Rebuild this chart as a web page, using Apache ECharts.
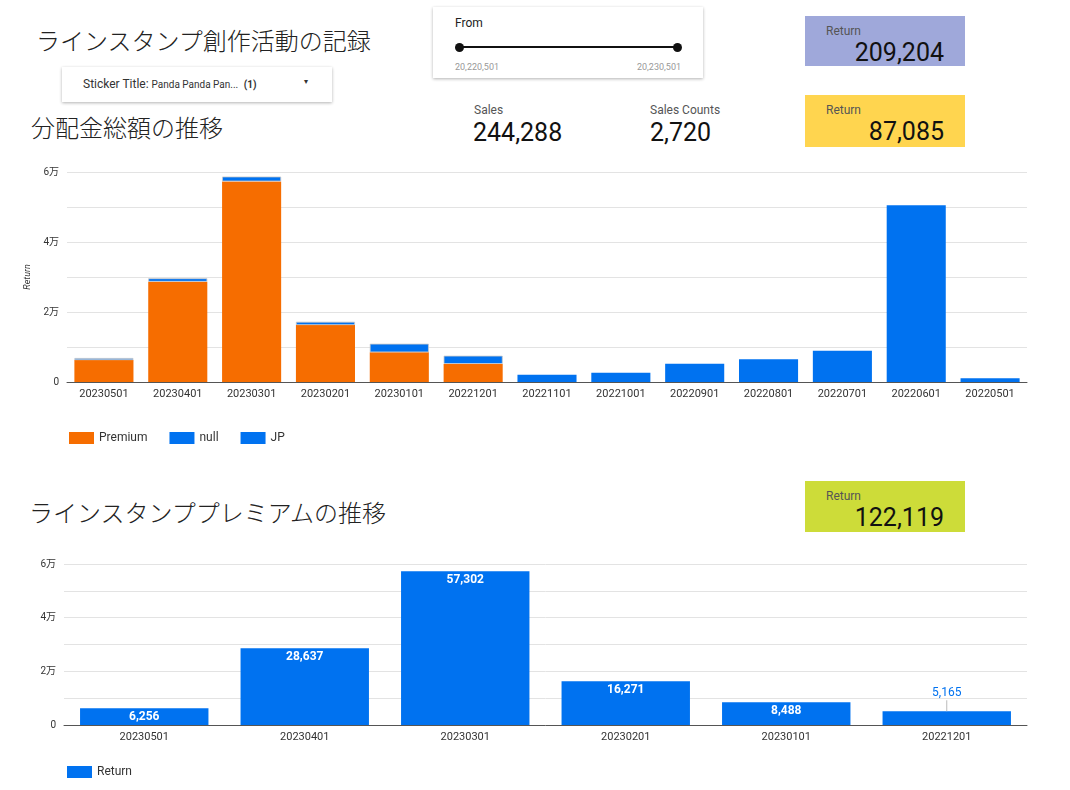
<!DOCTYPE html>
<html>
<head>
<meta charset="utf-8">
<script src="https://cdn.jsdelivr.net/npm/echarts@6/dist/echarts.min.js"></script>
<style>
  body { margin:0; background:#fff; font-family: Roboto, "Noto Sans CJK JP", sans-serif; }
  #page { position:relative; width:1070px; height:790px; overflow:hidden; }
  .abs { position:absolute; }
  .jp { font-family:"Noto Sans CJK JP", sans-serif; font-weight:300; font-size:24px; color:#222; white-space:nowrap; }
  .card { background:#fff; box-shadow:0 1px 3px rgba(0,0,0,0.3); }
  .lbl { font-size:12px; color:#555; }
  .big { font-size:25px; color:#111; }
  .box { width:160px; }
  .box .lbl { position:absolute; left:21px; top:8px; }
  .box .big { position:absolute; right:21px; top:22px; }
  #chart1 { position:absolute; left:0; top:150px; width:1070px; height:310px; }
  #chart2 { position:absolute; left:0; top:540px; width:1070px; height:250px; }
</style>
</head>
<body>
<div id="page">
  <div class="abs jp" style="left:36px;top:22px;">ラインスタンプ創作活動の記録</div>
  <div class="abs card" style="left:62px;top:67px;width:270px;height:35px;">
    <span class="abs" style="left:21px;top:10px;font-size:12px;color:#333;">Sticker Title: <span style="font-size:10px;">Panda Panda Pan...</span> <b style="font-size:10px;">&nbsp;(1)</b></span>
    <span class="abs" style="left:242px;top:10px;font-size:8px;color:#333;">&#9662;</span>
  </div>
  <div class="abs jp" style="left:31px;top:109px;">分配金総額の推移</div>

  <div class="abs card" style="left:433px;top:7px;width:270px;height:71px;">
    <span class="abs" style="left:22px;top:9px;font-size:12px;color:#222;">From</span>
    <div class="abs" style="left:26px;top:39px;width:218px;height:2px;background:#111;"></div>
    <div class="abs" style="left:22px;top:36px;width:9px;height:9px;border-radius:50%;background:#111;"></div>
    <div class="abs" style="left:240px;top:36px;width:9px;height:9px;border-radius:50%;background:#111;"></div>
    <span class="abs" style="left:22px;top:55px;font-size:9px;color:#999;">20,220,501</span>
    <span class="abs" style="right:22px;top:55px;font-size:9px;color:#999;">20,230,501</span>
  </div>

  <div class="abs lbl" style="left:474px;top:103px;">Sales</div>
  <div class="abs big" style="left:473px;top:118px;">244,288</div>
  <div class="abs lbl" style="left:650px;top:103px;">Sales Counts</div>
  <div class="abs big" style="left:650px;top:118px;">2,720</div>

  <div class="abs box" style="left:805px;top:16px;height:50px;background:#9fa8da;"><span class="lbl">Return</span><span class="big">209,204</span></div>
  <div class="abs box" style="left:805px;top:95px;height:52px;background:#ffd54f;"><span class="lbl">Return</span><span class="big">87,085</span></div>

  <div class="abs jp" style="left:29px;top:494px;">ラインスタンププレミアムの推移</div>
  <div class="abs box" style="left:805px;top:481px;height:51px;background:#cddc39;"><span class="lbl">Return</span><span class="big">122,119</span></div>

  <div id="chart1"></div>
  <div id="chart2"></div>
</div>
<script>
var months = ['20230501','20230401','20230301','20230201','20230101','20221201','20221101','20221001','20220901','20220801','20220701','20220601','20220501'];
var premium = [6256, 28637, 57302, 16271, 8488, 5165, null, null, null, null, null, null, null];
var nullType = [600, 1000, 1400, 950, 2450, 2350, null, null, null, null, null, null, null];
var jp = [null, null, null, null, null, null, 2100, 2650, 5250, 6500, 8900, 50500, 1050];

var premiumMonths = ['20230501','20230401','20230301','20230201','20230101','20221201'];
var premiumReturn = [6256, 28637, 57302, 16271, 8488, 5165];

var yTicks = [0, 20000, 40000, 60000];

var blue = '#0072f0';
var orange = '#f66d00';
var font = 'Roboto, "Noto Sans CJK JP", sans-serif';

function yLabel(v){
  if (yTicks.indexOf(v) < 0) return '';
  return v === 0 ? '0' : (v / 10000) + '万';
}

function valueAxis(name){
  return {
    type: 'value', min: 0, max: 60000, interval: 10000,
    name: name, nameLocation: 'middle', nameGap: 31, nameRotate: 90,
    nameTextStyle: { fontSize: 9, fontStyle: 'italic', color: '#333', fontFamily: font },
    axisLabel: { formatter: yLabel, fontSize: 10, color: '#333', fontFamily: font, margin: 8 },
    splitLine: { lineStyle: { color: '#e3e3e3', width: 1 } },
    axisLine: { show: false }, axisTick: { show: false }
  };
}

function catAxis(data){
  return {
    type: 'category', data: data,
    axisLabel: { fontSize: 11, color: '#333', fontFamily: font, margin: 7 },
    axisLine: { lineStyle: { color: '#555', width: 1 } },
    axisTick: { show: false }
  };
}

/* 分配金総額の推移 */
var chart1 = echarts.init(document.getElementById('chart1'));
chart1.setOption({
  animation: false,
  textStyle: { fontFamily: font },
  grid: { left: 67, right: 43, top: 22, bottom: 78 },
  legend: {
    left: 64, top: 277, itemWidth: 25, itemHeight: 12, itemGap: 22, icon: 'rect',
    itemStyle: { borderWidth: 0 },
    textStyle: { fontSize: 12, color: '#333', fontFamily: font },
    data: ['Premium', 'null', 'JP']
  },
  xAxis: catAxis(months),
  yAxis: valueAxis('Return'),
  series: [
    { name: 'Premium', type: 'bar', stack: 'ret', data: premium, barCategoryGap: '20%',
      itemStyle: { color: orange } },
    { name: 'null', type: 'bar', stack: 'ret', data: nullType,
      itemStyle: { color: blue, borderColor: '#c9c9c9', borderWidth: 0.8 } },
    { name: 'JP', type: 'bar', stack: 'ret', data: jp,
      itemStyle: { color: blue } }
  ]
});

/* ラインスタンププレミアムの推移 */
var chart2 = echarts.init(document.getElementById('chart2'));
var lastIdx = premiumReturn.length - 1;
function fmt(v){ return v.toLocaleString('en-US'); }
chart2.setOption({
  animation: false,
  textStyle: { fontFamily: font },
  grid: { left: 64, right: 43, top: 24, bottom: 65 },
  legend: {
    left: 62, top: 221, itemWidth: 25, itemHeight: 12, icon: 'rect',
    textStyle: { fontSize: 12, color: '#333', fontFamily: font },
    data: ['Return']
  },
  xAxis: catAxis(premiumMonths),
  yAxis: Object.assign(valueAxis(''), { name: '' }),
  series: [{
    name: 'Return', type: 'bar', barCategoryGap: '20%',
    itemStyle: { color: blue },
    label: {
      show: true, position: 'insideTop', distance: 3,
      color: '#fff', fontWeight: 'bold', fontSize: 12, fontFamily: font,
      formatter: function(p){ return fmt(p.value); }
    },
    data: premiumReturn.map(function(v, i){
      if (i !== lastIdx) return v;
      // too short for an inside label: value above the bar with a small guide line
      return {
        value: v,
        label: {
          position: 'top', distance: 0, align: 'center', fontWeight: 'normal',
          formatter: function(p){ return '{v|' + fmt(p.value) + '}\n{l|}'; },
          rich: {
            v: { color: blue, fontSize: 12, fontWeight: 'normal', fontFamily: font, lineHeight: 15, align: 'center' },
            l: { width: 1, height: 11, backgroundColor: '#bbb', align: 'center' }
          }
        }
      };
    })
  }]
});

window.addEventListener('resize', function(){ chart1.resize(); chart2.resize(); });
</script>
</body>
</html>
